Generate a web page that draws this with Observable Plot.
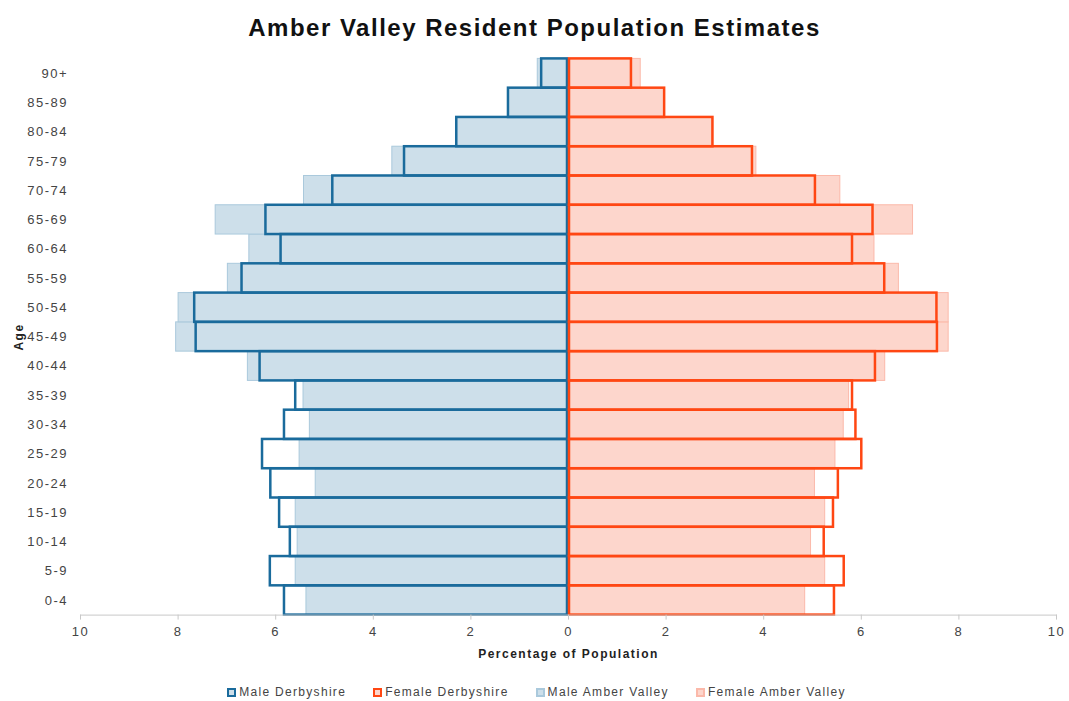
<!DOCTYPE html>
<html><head><meta charset="utf-8">
<script src="https://cdn.jsdelivr.net/npm/d3@7"></script>
<script src="https://cdn.jsdelivr.net/npm/@observablehq/plot@0.6"></script>
<style>
html,body{margin:0;background:#fff;overflow:hidden;font-family:"Liberation Sans",Arial,sans-serif;}
#title{height:52px;line-height:55px;text-align:center;font-weight:bold;font-size:24px;letter-spacing:1.5px;color:#111;}
#chart svg{display:block;}
#chart svg text{letter-spacing:1.5px;}
#chart svg g[aria-label="x-axis label"],#chart svg g[aria-label="y-axis label"]{font-weight:bold;fill:#222;font-size:12px;}
#legend{display:flex;justify-content:center;gap:27px;font-size:12px;letter-spacing:1.3px;color:#444;margin-top:13px;margin-left:4px;}
.item{display:flex;align-items:center;gap:3px;}
.sw{width:5px;height:5px;border:2px solid;}
</style></head><body>
<div id="title">Amber Valley Resident Population Estimates</div>
<div id="chart"></div>
<div id="legend"></div>
<script>
const ages = ["0-4","5-9","10-14","15-19","20-24","25-29","30-34","35-39","40-44","45-49","50-54","55-59","60-64","65-69","70-74","75-79","80-84","85-89","90+"];
const maleDerbyshire    = [5.82,6.11,5.70,5.92,6.10,6.27,5.82,5.59,6.32,7.63,7.66,6.69,5.89,6.20,4.83,3.36,2.29,1.23,0.55];
const femaleDerbyshire  = [5.45,5.65,5.24,5.43,5.53,6.01,5.89,5.82,6.29,7.56,7.55,6.48,5.82,6.24,5.06,3.77,2.96,1.97,1.29];
const maleAmberValley   = [5.37,5.59,5.55,5.59,5.18,5.51,5.30,5.43,6.57,8.04,7.99,6.98,6.54,7.23,5.42,3.61,2.28,1.22,0.63];
const femaleAmberValley = [4.85,5.26,4.97,5.26,5.05,5.47,5.64,5.75,6.49,7.79,7.79,6.77,6.27,7.06,5.57,3.85,2.95,1.96,1.48];
const xTicks = [-10,-8,-6,-4,-2,0,2,4,6,8,10];

const rows = (vals, sign) => ages.map((a,i) => ({age:a, value: sign*vals[i]}));

const chart = Plot.plot({
  width:1069, height:620,
  marginLeft:80, marginRight:13, marginTop:6.4, marginBottom:57.4,
  style:{fontFamily:"'Liberation Sans', Arial, sans-serif", fontSize:"13px", color:"#444", background:"white"},
  x:{domain:[-10,10]},
  y:{domain: ages.slice().reverse(), padding:0, round:false},
  marks:[
    Plot.barX(rows(maleAmberValley,-1), {x:"value", y:"age", fill:"#cddfea", stroke:"#aac9dc", strokeWidth:1}),
    Plot.barX(rows(femaleAmberValley,1), {x:"value", y:"age", fill:"#fdd6cc", stroke:"#fbb9aa", strokeWidth:1}),
    Plot.barX(rows(maleDerbyshire,-1), {x:"value", y:"age", fill:"none", stroke:"#1a6b9c", strokeWidth:2.5, insetRight:1}),
    Plot.barX(rows(femaleDerbyshire,1), {x:"value", y:"age", fill:"none", stroke:"#ff4713", strokeWidth:2.5, insetLeft:1}),
    Plot.frame({anchor:"bottom", stroke:"#c8c8c8"}),
    Plot.axisX({ticks:xTicks, tickFormat:d=>Math.abs(d), tickSize:5, tickPadding:7, stroke:"#c8c8c8", fill:"#444",
      label:"Percentage of Population", labelAnchor:"center", labelArrow:"none", labelOffset:43}),
    Plot.axisY({tickSize:0, tickPadding:12.5, fill:"#444", label:"Age", labelAnchor:"center", labelOffset:66})
  ]
});
document.getElementById("chart").appendChild(chart);

const legendItems = [
  {name:"Male Derbyshire", border:"#1a6b9c", fill:"#cddfea"},
  {name:"Female Derbyshire", border:"#ff4713", fill:"#fdd6cc"},
  {name:"Male Amber Valley", border:"#aac9dc", fill:"#cddfea"},
  {name:"Female Amber Valley", border:"#fbb9aa", fill:"#fdd6cc"}
];
const lg = document.getElementById("legend");
legendItems.forEach(it => {
  const d = document.createElement("div"); d.className="item";
  const s = document.createElement("span"); s.className="sw";
  s.style.borderColor = it.border; s.style.background = it.fill;
  const t = document.createElement("span"); t.textContent = it.name;
  d.appendChild(s); d.appendChild(t); lg.appendChild(d);
});
</script>
</body></html>
